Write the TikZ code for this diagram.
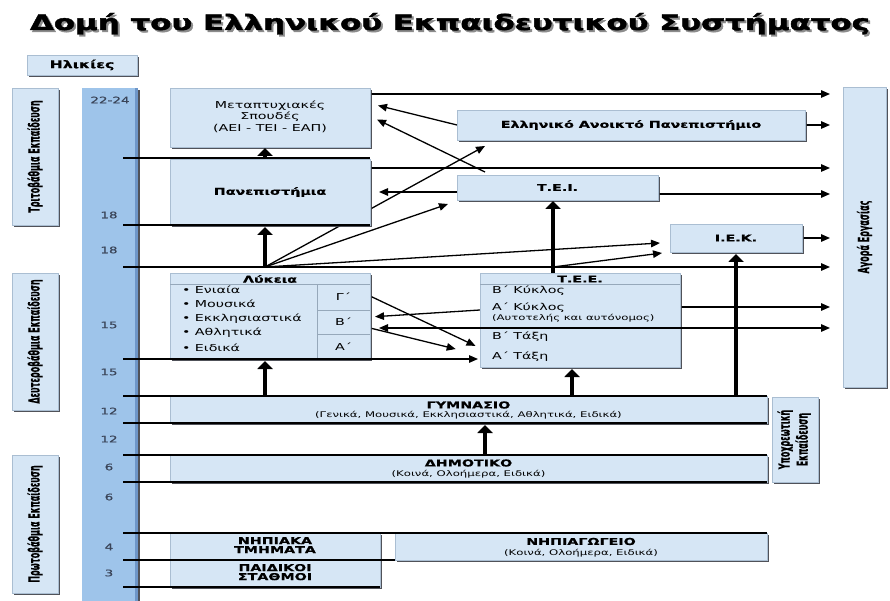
\documentclass[tikz,border=0pt]{standalone}
\usepackage{fontspec}
\setmainfont{DejaVu Sans}
\newfontfamily\titlefont{DejaVu Sans}[FakeBold=1.6]
\newfontfamily\heavyfont{DejaVu Sans}[FakeBold=0.6]
\usepackage{graphicx}
\usetikzlibrary{arrows.meta,shadows,calc}

\definecolor{boxfill}{RGB}{214,230,245}
\definecolor{boxedge}{RGB}{170,190,210}
\definecolor{shadecol}{RGB}{62,64,72}
\definecolor{barfill}{RGB}{158,196,234}
\definecolor{baredge}{RGB}{110,150,200}
\definecolor{agecol}{RGB}{58,68,88}
\definecolor{sepcol}{RGB}{150,168,186}

% horizontal text stretch used throughout the chart
\newcommand{\stretchx}[1]{\scalebox{1.5}[1]{#1}}
% vertical (bottom-to-top) labels
\newcommand{\vtext}[1]{\scalebox{1.9}[1]{\rotatebox{90}{#1}}}
% chart title with its grey shadow
\newcommand{\titletext}{\resizebox{840pt}{17pt}{\titlefont\bfseries Δομή του Ελληνικού Εκπαιδευτικού Συστήματος}}

\pgfdeclarelayer{back}
\pgfdeclarelayer{under}
\pgfsetlayers{back,under,main}

\begin{document}
\begin{tikzpicture}[x=1pt,y=-1pt,
  box/.style={fill=boxfill, draw=boxedge, line width=0.4pt, inner sep=0pt, outer sep=0pt,
    drop shadow={shadow xshift=2pt, shadow yshift=-2pt, fill=shadecol, opacity=0.9},
    font=\fontsize{9.5}{11.5}\selectfont},
  bbox/.style={box, font=\fontsize{9.5}{11.5}\heavyfont\bfseries},
  txt/.style={inner sep=0pt, outer sep=0pt, font=\fontsize{9.5}{11.5}\selectfont},
  bold/.style={txt, font=\fontsize{9.5}{11.5}\heavyfont\bfseries},
  small/.style={txt, font=\fontsize{7.8}{9}\selectfont},
  age/.style={txt, text=agecol, font=\fontsize{9}{10}\heavyfont},
  vlab/.style={txt, font=\fontsize{8}{9.5}\heavyfont\bfseries},
  level/.style={line width=1.3pt},
  arr/.style={line width=1.3pt, -{Triangle[length=9pt,width=7.5pt]}},
  arrboth/.style={line width=1.3pt, {Triangle[length=9pt,width=7.5pt]}-{Triangle[length=9pt,width=7.5pt]}},
  big/.style={line width=3.8pt, -{Triangle[length=8pt,width=15pt]}},
  sep/.style={draw=sepcol, line width=0.8pt}
]
\useasboundingbox (0,0) rectangle (890,601);
\begin{pgfonlayer}{back}
  \fill[white] (0,0) rectangle (890,601);
\end{pgfonlayer}

% ---------- title ----------
\node[anchor=base, inner sep=0pt] (title) at (450,30)
  {\rlap{\raisebox{-2pt}{\hspace{2pt}\textcolor{black!45}{\titletext}}}\titletext};

% ---------- age column ----------
\node[bbox, minimum width=110pt, minimum height=20pt, font=\fontsize{10.5}{12}\heavyfont\bfseries] (hl) at (82,65) {\stretchx{Ηλικίες}};
\node[box, draw=none, fill=barfill, minimum width=56pt, minimum height=520pt] (agebar) at (110,348) {};
\fill[baredge] (agebar.north east) ++(-3,0) rectangle (agebar.south east);

\node[age] (a1) at (110,100) {\stretchx{22-24}};
\node[age] (a2) at (109,215) {\stretchx{18}};
\node[age] (a3) at (109,250) {\stretchx{18}};
\node[age] (a4) at (109,325) {\stretchx{15}};
\node[age] (a5) at (109,372) {\stretchx{15}};
\node[age] (a6) at (109,411) {\stretchx{12}};
\node[age] (a7) at (109,439) {\stretchx{12}};
\node[age] (a8) at (109,467) {\stretchx{6}};
\node[age] (a9) at (109,497) {\stretchx{6}};
\node[age] (a10) at (109,547) {\stretchx{4}};
\node[age] (a11) at (109,573) {\stretchx{3}};

% ---------- level labels on the left ----------
\node[box, minimum width=46pt, minimum height=137pt] (tri) at (35,156.5) {};
\node[vlab] (trit) at (tri) {\vtext{Τριτοβάθμια Εκπαίδευση}};
\node[box, minimum width=46pt, minimum height=137pt] (deu) at (35,341.5) {};
\node[vlab] (deut) at (deu) {\vtext{Δευτεροβάθμια Εκπαίδευση}};
\node[box, minimum width=46pt, minimum height=138pt] (pro) at (35,524) {};
\node[vlab] (prot) at (pro) {\vtext{Πρωτοβάθμια Εκπαίδευση}};

% ---------- institutions ----------
\node[box, minimum width=200pt, minimum height=59pt] (mta) at (270,117.5)
  {\stretchx{\begin{tabular}{@{}c@{}}Μεταπτυχιακές\\Σπουδές\\(ΑΕΙ - ΤΕΙ - ΕΑΠ)\end{tabular}}};
\node[bbox, minimum width=200pt, minimum height=66pt] (pan) at (270,192)
  {\stretchx{Πανεπιστήμια}};
\node[bbox, minimum width=348pt, minimum height=30pt] (eap) at (631,125)
  {\stretchx{Ελληνικό Ανοικτό Πανεπιστήμιο}};
\node[bbox, minimum width=201pt, minimum height=25pt] (tei) at (557.5,187.5)
  {\stretchx{Τ.Ε.Ι.}};
\node[bbox, minimum width=132pt, minimum height=28pt] (iek) at (736,238)
  {\stretchx{Ι.Ε.Κ.}};
\node[box, minimum width=43pt, minimum height=300pt] (agora) at (864.5,237) {};
\node[vlab] (agorat) at (agora) {\vtext{Αγορά Εργασίας}};

% Lykeia
\node[box, minimum width=200pt, minimum height=86pt] (lyk) at (270,316) {};
\node[bold] (lykh) at (270,279) {\stretchx{Λύκεια}};
\draw[sep] (170,284) -- (370,284);
\draw[sep] (317,284) -- (317,359);
\draw[sep] (317,310) -- (370,310);
\draw[sep] (317,334) -- (370,334);
\node[txt, anchor=west] (l1) at (182,290) {\stretchx{• Ενιαία}};
\node[txt, anchor=west] (l2) at (182,304) {\stretchx{• Μουσικά}};
\node[txt, anchor=west] (l3) at (182,319) {\stretchx{• Εκκλησιαστικά}};
\node[txt, anchor=west] (l4) at (182,333) {\stretchx{• Αθλητικά}};
\node[txt, anchor=west] (l5) at (182,348) {\stretchx{• Ειδικά}};
\node[txt] (lg) at (343.5,297) {\stretchx{Γ΄}};
\node[txt] (lb) at (343.5,322) {\stretchx{Β΄}};
\node[txt] (la) at (343.5,346.5) {\stretchx{Α΄}};

% T.E.E.
\node[box, minimum width=200pt, minimum height=94pt] (tee) at (580,320) {};
\node[bold] (teeh) at (580,279) {\stretchx{Τ.Ε.Ε.}};
\draw[sep] (480,284) -- (680,284);
\node[txt, anchor=west] (t1) at (492,291) {\stretchx{Β΄ Κύκλος}};
\node[txt, anchor=west] (t2) at (492,308) {\stretchx{Α΄ Κύκλος}};
\node[small, anchor=west] (t2b) at (492,318.5) {\stretchx{(Αυτοτελής και αυτόνομος)}};
\node[txt, anchor=west] (t3) at (492,337) {\stretchx{Β΄ Τάξη}};
\node[txt, anchor=west] (t4) at (492,357) {\stretchx{Α΄ Τάξη}};

% compulsory schools
\node[box, minimum width=597pt, minimum height=27pt] (gym) at (468.5,409.5) {};
\node[bold] (gymh) at (468.5,405) {\stretchx{ΓΥΜΝΑΣΙΟ}};
\node[small] (gyms) at (468.5,415.5) {\stretchx{(Γενικά, Μουσικά, Εκκλησιαστικά, Αθλητικά, Ειδικά)}};
\node[box, minimum width=597pt, minimum height=27pt] (dim) at (468.5,468.5) {};
\node[bold] (dimh) at (468.5,463) {\stretchx{ΔΗΜΟΤΙΚΟ}};
\node[small] (dims) at (468.5,474) {\stretchx{(Κοινά, Ολοήμερα, Ειδικά)}};
\node[box, minimum width=46pt, minimum height=85pt] (ypo) at (795,439.5) {};
\node[vlab] (ypot) at (ypo) {\vtext{\begin{tabular}{@{}c@{}}Υποχρεωτική\\Εκπαίδευση\end{tabular}}};

% pre-school
\node[bbox, minimum width=210pt, minimum height=27pt, font=\fontsize{9.5}{10.5}\heavyfont\bfseries] (nip) at (275,546.5)
  {\stretchx{\begin{tabular}{@{}c@{}}ΝΗΠΙΑΚΑ\\[-1.5pt]ΤΜΗΜΑΤΑ\end{tabular}}};
\node[bbox, minimum width=210pt, minimum height=27pt, font=\fontsize{9.5}{10.5}\heavyfont\bfseries] (pai) at (275,573.5)
  {\stretchx{\begin{tabular}{@{}c@{}}ΠΑΙΔΙΚΟΙ\\[-1.5pt]ΣΤΑΘΜΟΙ\end{tabular}}};
\node[box, minimum width=372pt, minimum height=27pt] (nia) at (581,546.5) {};
\node[bold] (niah) at (581,541.5) {\stretchx{ΝΗΠΙΑΓΩΓΕΙΟ}};
\node[small] (nias) at (581,553) {\stretchx{(Κοινά, Ολοήμερα, Ειδικά)}};

% ---------- reference coordinates ----------
\coordinate (mk) at (830,0);   % arrow tips towards the labour market
\coordinate (lx) at (123,0);   % left start of the level lines
\coordinate (fo) at (265,267); % fan origin after Lykeia
\coordinate (tb) at (553,267);
\coordinate (tu) at (572,0);
\coordinate (du) at (485,0);
\coordinate (y94) at (0,94);
\coordinate (y158) at (0,158);
\coordinate (y168) at (0,168);
\coordinate (y194) at (0,194);
\coordinate (y225) at (0,225);
\coordinate (y296) at (0,296);
\coordinate (y307) at (0,307);
\coordinate (y310) at (0,310);
\coordinate (y317) at (0,317);
\coordinate (y328) at (0,328);
\coordinate (y348) at (0,348);
\coordinate (y355) at (0,355);
\coordinate (y359) at (0,359);

% ---------- connectors behind the boxes ----------
\begin{pgfonlayer}{under}
  \draw[arr] (fo) -- ($(eap.south west)+(28,6)$);
  \draw[arr] (fo) -- ($(tei.south west)+(-9,4)$);
  \draw[arr] (fo) -- ($(iek.west)+(-10,5)$);
  \draw[arr] (tb) -- ($(iek.west)+(-8,15)$);
  \draw[arr] ($(tei.north west)+(28,-3)$) -- ($(mta.east)+(7,2)$);
  \draw[arr] (eap.west) -- ($(mta.east)+(8,-12)$);
  \draw[arr, shorten >=9pt] (tei.west |- pan.east) -- (pan.east);
  \draw[arr] (mta.east |- y94) -- (mk |- y94);
  \draw[arr] (eap.east) -- (mk |- eap.east);
  \draw[arr] (pan.east |- y168) -- (mk |- y168);
  \draw[arr] (tei.east |- y194) -- (mk |- y194);
  \draw[arr] (iek.east) -- (mk |- iek.east);
  \draw[arr] (tee.east |- y307) -- (mk |- y307);
  \draw[arr, shorten >=5pt] (tee.west |- y310) -- (lyk.east |- y317);
  \draw[arr, shorten >=5pt] (lyk.east |- y296) -- (tee.west |- y348);
  \draw[arr, shorten >=25pt] (lyk.east |- y328) -- (tee.west |- y355);
\end{pgfonlayer}

% ---------- lines on top ----------
\draw[arrboth, shorten <=9pt] (lyk.east |- y328) -- (mk |- y328);
\draw[arr] (lx |- fo) -- (mk |- fo);
\draw[arr, shorten >=2pt] (lx |- y359) -- (tee.west |- y359);
\draw[level] (lx |- y158) -- (pan.east |- y158);
\draw[level] (lx |- y225) -- (pan.east |- y225);
\draw[level] (lx |- gym.north) -- (gym.north east);
\draw[level] (lx |- gym.south) -- (gym.south east);
\draw[level] (lx |- dim.north) -- (dim.north east);
\draw[level] (lx |- dim.south) -- (dim.south east);
\draw[level] (lx |- nip.north) -- (nia.north east);
\draw[level] (lx |- nip.south) -- (nia.south west);
\draw[level] (lx |- pai.south) -- (pai.south east);

% ---------- progression arrows ----------
\draw[big, shorten >=1pt] (pan.north -| fo) -- (mta.south -| fo);
\draw[big, shorten >=2pt] (fo) -- (pan.south -| fo);
\draw[big, shorten >=2pt] (gym.north -| fo) -- (lyk.south -| fo);
\draw[big, shorten >=1pt] (tee.north -| tb) -- (tei.south -| tb);
\draw[big, shorten >=2pt] (gym.north -| tu) -- (tee.south -| tu);
\draw[big, shorten >=2pt] (gym.north -| iek.south) -- (iek.south);
\draw[big, shorten >=2pt] (dim.north -| du) -- (gym.south -| du);
\end{tikzpicture}
\end{document}
